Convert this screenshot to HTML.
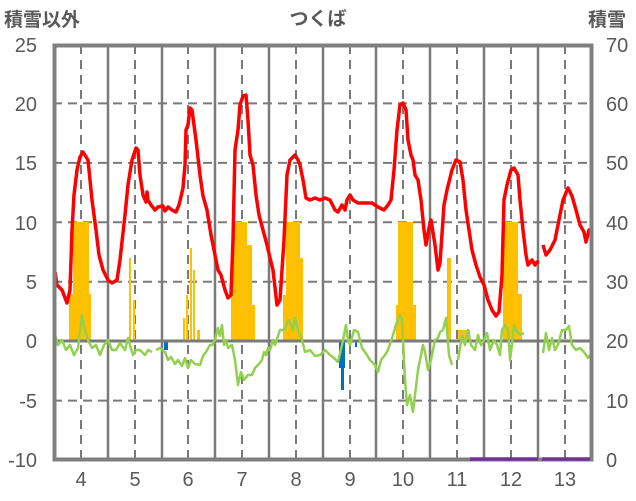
<!DOCTYPE html>
<html><head><meta charset="utf-8"><style>
body{margin:0;background:#fff}
svg{display:block}
text{font-family:"Liberation Sans","Noto Sans CJK JP",sans-serif;fill:#595959;font-size:20px}
</style></head><body>
<svg width="636" height="501" viewBox="0 0 636 501">
<rect width="636" height="501" fill="#fff"/>
<g stroke="#7a7a7a" stroke-width="2" stroke-dasharray="9,6">
<line x1="53" x2="593" y1="103.4" y2="103.4"/><line x1="53" x2="593" y1="162.9" y2="162.9"/>
<line x1="53" x2="593" y1="222.3" y2="222.3"/><line x1="53" x2="593" y1="281.7" y2="281.7"/>
<line x1="53" x2="593" y1="400.6" y2="400.6"/>
<line x1="81" x2="81" y1="45" y2="460"/><line x1="135" x2="135" y1="45" y2="460"/>
<line x1="188" x2="188" y1="45" y2="460"/><line x1="242" x2="242" y1="45" y2="460"/>
<line x1="296" x2="296" y1="45" y2="460"/><line x1="350" x2="350" y1="45" y2="460"/>
<line x1="403" x2="403" y1="45" y2="460"/><line x1="457" x2="457" y1="45" y2="460"/>
<line x1="511" x2="511" y1="45" y2="460"/><line x1="565" x2="565" y1="45" y2="460"/>
</g>
<g stroke="#7a7a7a" stroke-width="2.5">
<line x1="108" x2="108" y1="45" y2="460"/><line x1="162" x2="162" y1="45" y2="460"/>
<line x1="215" x2="215" y1="45" y2="460"/><line x1="269" x2="269" y1="45" y2="460"/>
<line x1="323" x2="323" y1="45" y2="460"/><line x1="376" x2="376" y1="45" y2="460"/>
<line x1="430" x2="430" y1="45" y2="460"/><line x1="484" x2="484" y1="45" y2="460"/>
<line x1="538" x2="538" y1="45" y2="460"/>
</g>
<g fill="#ffc000">
<rect x="73" y="222" width="16" height="119"/><rect x="69" y="294" width="4" height="47"/><rect x="89" y="294" width="2" height="47"/>
<rect x="129" y="258" width="2" height="83"/><rect x="133" y="300" width="2" height="41"/>
<rect x="183" y="318" width="2" height="23"/><rect x="186" y="295" width="2" height="46"/><rect x="190" y="248" width="2" height="93"/><rect x="193" y="270" width="2" height="71"/><rect x="197" y="330" width="3" height="11"/>
<rect x="234" y="222" width="13" height="119"/><rect x="231" y="260" width="3" height="81"/><rect x="247" y="245" width="5" height="96"/><rect x="252" y="305" width="3" height="36"/>
<rect x="286" y="222" width="14" height="119"/><rect x="283" y="295" width="3" height="46"/><rect x="300" y="258" width="3" height="83"/>
<rect x="398" y="222" width="15" height="119"/><rect x="396" y="305" width="2" height="36"/><rect x="413" y="305" width="3" height="36"/>
<rect x="447" y="258" width="4" height="83"/><rect x="458" y="330" width="12" height="11"/>
<rect x="503" y="222" width="15" height="119"/><rect x="518" y="294" width="4" height="47"/>
</g>
<g fill="#0070c0">
<rect x="164" y="341" width="4" height="9"/><rect x="339" y="341" width="6" height="27"/><rect x="341" y="341" width="3" height="49"/><rect x="355" y="341" width="2" height="6"/>
</g>
<line x1="53" x2="593" y1="341" y2="341" stroke="#7a7a7a" stroke-width="3"/>
<g fill="none" stroke="#92d050" stroke-width="2.5" stroke-linejoin="round">
<polyline points="55,335 58,345 62,340 66,350 70,345 74,355 78,348 82,315 85,330 88,340 92,348 96,345 100,355 104,345 108,340 112,350 116,350 120,343 125,350 128,338 130,345 133,355 136,350 140,350 145,355 148,350 152,352"/>
<polyline points="156,350 160,348 165,352 168,360 171,357 175,364 178,360 182,366 185,358 188,368 191,360 195,364 200,365 203,356 206,352 210,345 212,345 215,340 218,328 220,336 222,325 224,345 226,340 228,348 232,345 235,360 238,385 241,372 244,380 248,375 252,375 255,368 258,365 262,360 264,352 266,355 268,348 270,350 273,340 275,345 280,330 285,330 288,320 290,322 293,330 295,318 298,330 302,340 305,352 310,350 315,356 320,355 325,350 330,355 334,358 338,362 342,345 346,325 348,340 350,345 354,330 358,332 362,348 367,355 370,360 375,365 378,372 381,360 385,355 388,350 392,338 396,325 400,315 402,320 405,380 407,405 410,395 413,412 415,395 418,370 420,360 423,345 425,352 428,370 431,360 435,340 438,338 440,332 443,330 446,318 449,355 452,365"/>
<polyline points="458,360 462,335 465,345 468,330 471,345 475,350 478,335 481,345 484,340 487,333 490,350 494,340 497,345 500,355 502,330 505,325 508,330 510,360 512,345 514,325 516,330 520,335 524,333"/>
<polyline points="543,353 546,333 549,350 552,338 555,350 558,345 562,330 566,330 569,326 572,345 576,350 580,348 584,352 588,358 590,355"/>
</g>
<g fill="none" stroke="#ff0000" stroke-width="3.5" stroke-linejoin="round">
<polyline points="55,272 57,285 62,290 67,303 70,290 72,230 74,195 77,170 80,157 83,152 88,160 92,200 96,230 99,255 103,270 108,280 112,283 117,280 120,260 125,215 128,185 132,160 136,148 138,150 140,175 143,195 146,202 147,192 148,200 151,205 155,210 158,207 163,206 165,211 168,207 172,210 176,212 179,205 183,188 185,165 186,130 188,125 190,108 192,110 196,140 200,175 203,196 207,210 211,235 215,255 218,270 221,275 225,290 228,298 231,295 233,240 235,150 238,130 240,105 243,96 246,95 248,120 250,155 253,165 256,195 259,215 263,230 267,245 270,258 273,270 277,305 280,300 284,240 287,175 290,160 295,155 298,160 300,165 303,180 306,198 310,200 315,198 320,200 325,198 330,200 335,210 338,212 342,205 345,210 347,200 350,195 353,200 358,203 365,203 372,203 378,207 384,210 388,205 391,200 394,170 397,130 400,105 403,103 406,110 408,140 411,155 413,160 415,175 418,180 421,200 424,230 426,245 429,228 431,220 435,245 438,270 440,263 444,205 447,190 452,170 456,160 460,162 463,180 466,210 469,230 472,250 476,265 480,277 484,285 488,300 492,310 496,316 499,312 502,275 504,200 507,185 511,170 514,168 518,175 520,200 523,230 526,255 528,265 532,260 535,265 537,262 539,262"/>
<polyline points="543,245 546,255 550,250 555,240 559,220 563,200 568,188 572,196 576,210 580,225 584,232 586,242 589,230 591,235"/>
</g>
<rect x="54.5" y="45.5" width="537" height="414" fill="none" stroke="#7f7f7f" stroke-width="4"/>
<g stroke="#7030a0" stroke-width="3.5"><line x1="470" x2="538" y1="459" y2="459"/><line x1="542" x2="590" y1="459" y2="459"/></g>
<g text-anchor="end">
<text x="37" y="52">25</text><text x="37" y="111">20</text><text x="37" y="170">15</text><text x="37" y="230">10</text>
<text x="37" y="289">5</text><text x="37" y="348">0</text><text x="37" y="408">-5</text><text x="37" y="467">-10</text>
</g>
<g text-anchor="start">
<text x="606" y="52">70</text><text x="606" y="111">60</text><text x="606" y="170">50</text><text x="606" y="230">40</text>
<text x="606" y="289">30</text><text x="606" y="348">20</text><text x="606" y="408">10</text><text x="606" y="467">0</text>
</g>
<g text-anchor="middle">
<text x="81" y="486">4</text><text x="135" y="486">5</text><text x="188" y="486">6</text><text x="242" y="486">7</text>
<text x="296" y="486">8</text><text x="350" y="486">9</text><text x="403" y="486">10</text><text x="457" y="486">11</text>
<text x="511" y="486">12</text><text x="565" y="486">13</text>
<text x="318" y="25" style="font-size:19px;font-weight:bold">つくば</text>
</g>
<text x="4" y="26" style="font-size:19px;font-weight:bold">積雪以外</text>
<text x="588" y="26" style="font-size:19px;font-weight:bold">積雪</text>
</svg>
</body></html>
